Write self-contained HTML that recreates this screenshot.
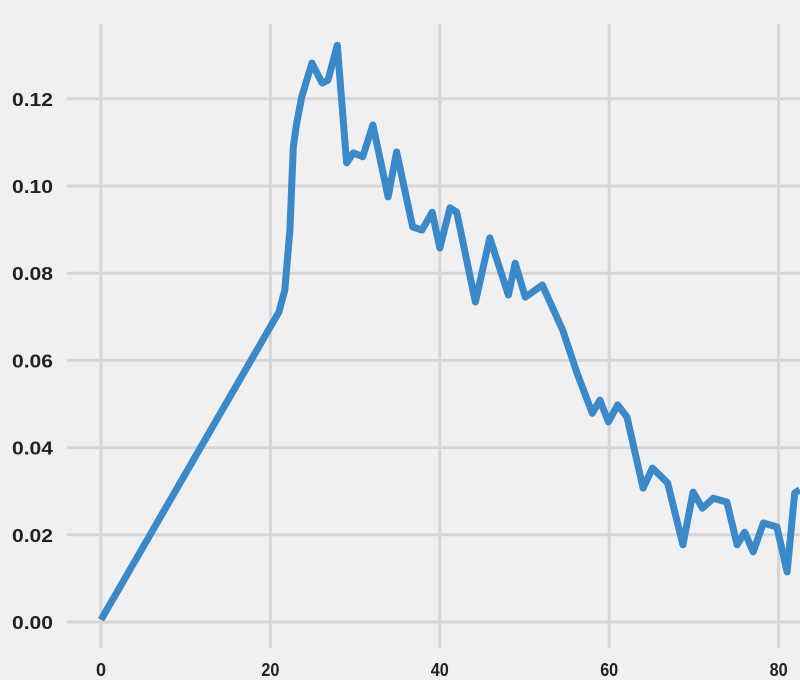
<!DOCTYPE html>
<html><head><meta charset="utf-8"><style>
html,body{margin:0;padding:0;background:#f0f0f0;}
svg{display:block;}
text{font-family:"Liberation Sans",sans-serif;font-size:18px;fill:#222;font-weight:bold;}
</style></head><body>
<svg id="chart" width="800" height="680" viewBox="0 0 800 680">
<rect x="0" y="0" width="800" height="680" fill="#f0f0f0"/>
<g id="grid"></g><g id="ticks"></g><g id="series"></g>
</svg>
<script>
const xs=[0,21.0,21.7,22.3,22.7,23.1,23.7,24.9,26.1,26.8,27.9,29.0,29.8,30.9,32.1,33.9,34.9,36.8,37.9,39.1,40.0,41.2,42.0,44.2,45.9,48.1,48.9,50.1,52.1,54.5,56.2,58.0,58.9,59.9,61.0,62.1,64.0,65.1,66.9,68.7,69.9,71.0,72.3,73.9,75.1,76.0,77.0,78.2,79.8,81.0,81.9,82.5];
const ys=[0.0005,0.0711,0.0761,0.0899,0.109,0.1144,0.1204,0.1282,0.1236,0.1243,0.1323,0.1053,0.1076,0.1067,0.114,0.0975,0.1078,0.0906,0.0899,0.094,0.0858,0.095,0.094,0.0734,0.0881,0.075,0.0823,0.0745,0.0773,0.067,0.0571,0.0479,0.0509,0.0459,0.0498,0.047,0.0307,0.0353,0.0319,0.0177,0.0298,0.0261,0.0284,0.0275,0.0177,0.0206,0.0161,0.0227,0.0218,0.0115,0.0296,0.0303];
const xTicks=[0,20,40,60,80];
const xTickLabels=["0","20","40","60","80"];
const yTicks=[0,0.02,0.04,0.06,0.08,0.10,0.12];
const yTickLabels=["0.00","0.02","0.04","0.06","0.08","0.10","0.12"];
const NS="http://www.w3.org/2000/svg";
function sx(v){return 101+v*8.47;}
function sy(v){return 622-v*4360;}
const grid=document.getElementById('grid'),ticks=document.getElementById('ticks'),series=document.getElementById('series');
function mk(tag,attrs,parent){const e=document.createElementNS(NS,tag);for(const k in attrs)e.setAttribute(k,attrs[k]);parent.appendChild(e);return e;}
xTicks.forEach((t,i)=>{
  const l=mk('line',{x1:sx(t),x2:sx(t),y1:24,y2:648,stroke:'#d6d6d6','stroke-width':3},grid);
  
  
  const attrs={x:sx(t),y:676,'text-anchor':'middle'};
  if(xTickLabels[i].length>1){attrs.textLength=18;attrs.lengthAdjust='spacingAndGlyphs';}
  const tx=mk('text',attrs,ticks);
  tx.textContent=xTickLabels[i];
  
  
});
yTicks.forEach((t,i)=>{
  const l=mk('line',{x1:67,x2:800,y1:sy(t),y2:sy(t),stroke:'#d6d6d6','stroke-width':3},grid);
  
  
  const tx=mk('text',{x:53,y:sy(t)+7,'text-anchor':'end','textLength':41,'lengthAdjust':'spacingAndGlyphs'},ticks);
  tx.textContent=yTickLabels[i];
  
  
});
const d=xs.map((x,i)=>(i?'L':'M')+sx(x).toFixed(1)+','+sy(ys[i]).toFixed(1)).join(' ');
const p=mk('path',{d:d,fill:'none',stroke:'#3a89c9','stroke-width':7,'stroke-linejoin':'round','stroke-linecap':'butt'},series);


</script>
</body></html>
